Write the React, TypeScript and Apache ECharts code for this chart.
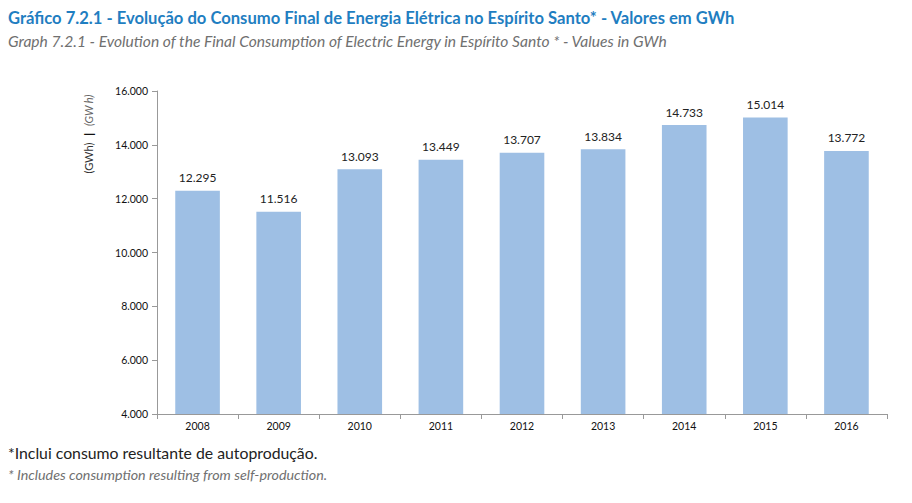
import React, { useEffect, useRef } from "react";
import * as echarts from "echarts";

const years = ["2008", "2009", "2010", "2011", "2012", "2013", "2014", "2015", "2016"];
const consumption = [12295, 11516, 13093, 13449, 13707, 13834, 14733, 15014, 13772];

const fmt = (v: number) => {
  const s = Math.round(v).toString();
  return s.replace(/\B(?=(\d{3})+(?!\d))/g, ".");
};

export default function App() {
  const ref = useRef<HTMLDivElement>(null);
  useEffect(() => {
    if (!ref.current) return;
    const chart = echarts.init(ref.current, null, { renderer: "svg" });
    const font = "Lato, 'Open Sans', 'Noto Sans', sans-serif";
    chart.setOption({
      animation: false,
      textStyle: { fontFamily: font },
      title: [
        {
          text: "Gráfico 7.2.1 - Evolução do Consumo Final de Energia Elétrica no Espírito Santo* - Valores em GWh",
          left: 0,
          top: 1,
          padding: 0,
          textStyle: { fontFamily: font, fontSize: 16.6, fontWeight: "bold", color: "#1f7ec1" },
        },
        {
          text: "Graph 7.2.1 - Evolution of the Final Consumption of Electric Energy in Espírito Santo * - Values in GWh",
          left: 0,
          top: 25,
          padding: 0,
          textStyle: { fontFamily: font, fontSize: 15.6, fontStyle: "italic", fontWeight: "normal", color: "#707070" },
        },
        {
          text: "*Inclui consumo resultante de autoprodução.",
          left: 0,
          top: 436,
          padding: 0,
          textStyle: { fontFamily: font, fontSize: 15.8, fontWeight: "normal", color: "#222" },
        },
        {
          text: "* Includes consumption resulting from self-production.",
          left: 0,
          top: 459,
          padding: 0,
          textStyle: { fontFamily: font, fontSize: 14.3, fontStyle: "italic", fontWeight: "normal", color: "#707070" },
        },
      ],
      grid: { left: 149, right: 17, top: 83, bottom: 81 },
      xAxis: {
        type: "category",
        data: years,
        axisLine: { lineStyle: { color: "#999" } },
        axisTick: { show: true, alignWithLabel: false, length: 5, lineStyle: { color: "#999" } },
        axisLabel: { color: "#111", fontSize: 10.5, margin: 6 },
      },
      yAxis: {
        type: "value",
        min: 4000,
        max: 16000,
        interval: 2000,
        axisLine: { show: true, lineStyle: { color: "#999" } },
        axisTick: { show: true, length: 5, lineStyle: { color: "#999" } },
        splitLine: { show: false },
        axisLabel: { color: "#111", fontSize: 10.5, margin: 9, formatter: (v: number) => fmt(v) },
      },
      graphic: [
        {
          type: "text",
          x: 80,
          y: 126,
          rotation: Math.PI / 2,
          style: {
            text: "{a|(GWh)}  {b||}  {c|(GW h)}",
            align: "center",
            verticalAlign: "middle",
            rich: {
              a: { fontSize: 11, fill: "#333", fontFamily: font },
              b: { fontSize: 12, fontWeight: "bold", fill: "#111", fontFamily: font },
              c: { fontSize: 11, fontStyle: "italic", fill: "#666", fontFamily: font },
            },
          },
        },
      ],
      series: [
        {
          type: "bar",
          data: consumption,
          barWidth: "55%",
          itemStyle: { color: "#9ebfe4" },
          label: {
            show: true,
            position: "top",
            distance: 7,
            color: "#222",
            fontSize: 12,
            formatter: (p: any) => fmt(p.value),
          },
        },
      ],
    });
    return () => chart.dispose();
  }, []);
  return <div ref={ref} style={{ width: 896, height: 487 }} />;
}
